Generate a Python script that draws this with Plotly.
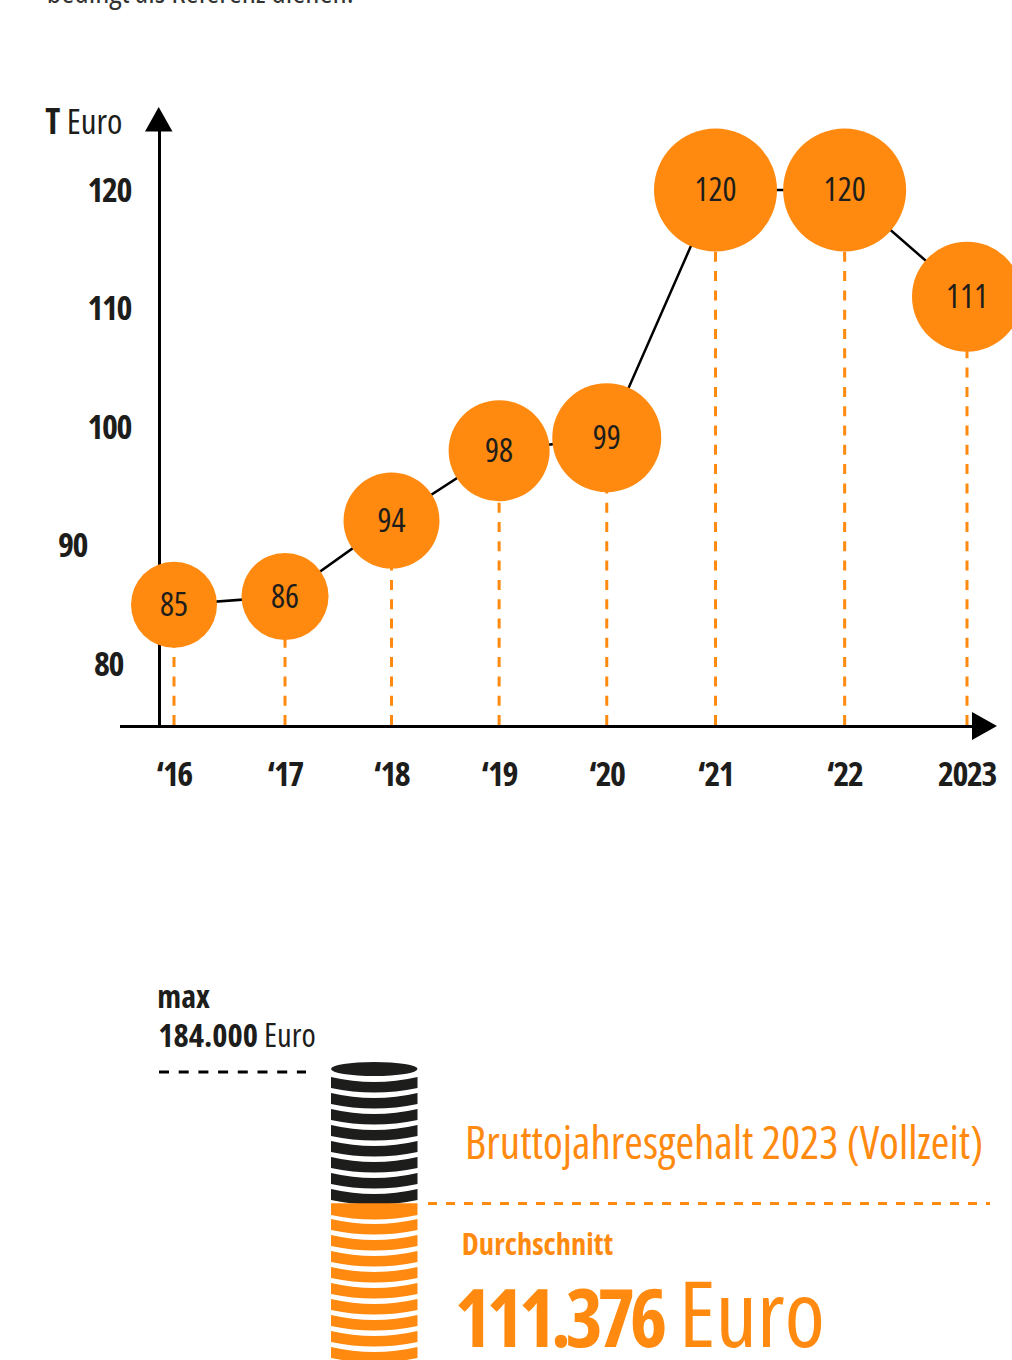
import plotly.graph_objects as go

W, H = 1012, 1360
ORANGE = "#FF8A0F"
INK = "#1D1D1B"
FONT = "Open Sans"

# --- data ---
years = [2016, 2016.98, 2017.92, 2018.87, 2019.82, 2020.78, 2021.92, 2023]
year_labels = ["‘16", "‘17", "‘18", "‘19", "‘20", "‘21", "‘22", "2023"]
salary_positions = [85, 85.7, 92.1, 98, 99.1, 120, 120, 111]
salary_labels = ["85", "86", "94", "98", "99", "120", "120", "111"]
bubble_sizes = [86, 87, 96, 101, 109, 123, 123, 110]
y_ticks = [120, 110, 100, 90, 80]
y_tick_centres = [109, 109, 109, 72, 108]
salary_max = 184000
salary_avg = 111376

# --- pixel helpers for layout ---
PX_PER_YEAR = (967 - 174) / 7
PX_PER_T = (664 - 190) / 40
x_range = [2016 + (120 - 174) / PX_PER_YEAR, 2016 + (985 - 174) / PX_PER_YEAR]
y_range = [80 + (664 - 725) / PX_PER_T, 80 + (664 - 125) / PX_PER_T]
axis_floor = y_range[0]

EUR_PER_PX = (salary_max - salary_avg) / (1203.5 - 1072)
def eur_at(py):
    return salary_max - (py - 1072) * EUR_PER_PX

fig = go.Figure()

# connecting line
fig.add_trace(go.Scatter(x=years, y=salary_positions, mode="lines", cliponaxis=False,
                         line=dict(color="#000000", width=2.5), hoverinfo="skip", showlegend=False))

# dashed drops, drawn upward from the axis so each starts with a dash on the axis
drop_x, drop_y = [], []
for xv, yv in zip(years, salary_positions):
    drop_x += [xv, xv, None]
    drop_y += [axis_floor, yv, None]
fig.add_trace(go.Scatter(x=drop_x, y=drop_y, mode="lines", cliponaxis=False,
                         line=dict(color=ORANGE, width=3, dash="10px,9.3px"),
                         hoverinfo="skip", showlegend=False))

# bubbles
fig.add_trace(go.Scatter(x=years, y=salary_positions, mode="markers+text", cliponaxis=False,
                         text=salary_labels, textposition="middle center",
                         textfont=dict(family=FONT, size=33, color=INK),
                         marker=dict(size=bubble_sizes, color=ORANGE, opacity=1, line=dict(width=0)),
                         hoverinfo="skip", showlegend=False))

# invisible trace that keeps the euro axis alive
fig.add_trace(go.Scatter(x=[374, 374], y=[salary_max, salary_avg], xaxis="x2", yaxis="y2",
                         mode="markers", marker=dict(size=1, opacity=0),
                         hoverinfo="skip", showlegend=False))

shapes = []
def coin_band(top, bottom_side, sag_top, sag_bot, color):
    xl, xr, xm = 331, 417.5, 374.25
    path = (f"M {xl} {eur_at(top)} "
            f"Q {xm} {eur_at(top + 2 * sag_top)} {xr} {eur_at(top)} "
            f"L {xr} {eur_at(bottom_side)} "
            f"Q {xm} {eur_at(bottom_side + 2 * sag_bot)} {xl} {eur_at(bottom_side)} Z")
    return dict(type="path", xref="x2", yref="y2", path=path,
                fillcolor=color, line=dict(width=0), layer="above")

# top face of the stack
shapes.append(dict(type="circle", xref="x2", yref="y2", x0=331, x1=417.5,
                   y0=eur_at(1062), y1=eur_at(1076), fillcolor=INK, line=dict(width=0)))
for i in range(8):
    t = 1077 + 16 * i
    shapes.append(coin_band(t, t + 11, 5, 4.5, INK))
shapes.append(coin_band(1203.3, 1215, 0, 4.5, ORANGE))
for i in range(1, 10):
    t = 1203 + 16 * i
    shapes.append(coin_band(t, t + 11, 5, 4.5, ORANGE))

# guide lines at the two salary levels
shapes.append(dict(type="line", xref="x2", yref="y2", x0=159, x1=306, y0=salary_max, y1=salary_max,
                   line=dict(color="#000000", width=3, dash="10px,9.7px")))
shapes.append(dict(type="line", xref="x2", yref="y2", x0=428, x1=990, y0=salary_avg, y1=salary_avg,
                   line=dict(color=ORANGE, width=3, dash="9px,9px")))

# axis arrowheads
shapes.append(dict(type="path", xref="x2", yref="y2",
                   path=f"M 145 {eur_at(131.5)} L 172.5 {eur_at(131.5)} L 158.7 {eur_at(107)} Z",
                   fillcolor="#000000", line=dict(width=0)))
shapes.append(dict(type="path", xref="x2", yref="y2",
                   path=f"M 972 {eur_at(712)} L 997 {eur_at(726)} L 972 {eur_at(740)} Z",
                   fillcolor="#000000", line=dict(width=0)))

def label(text, px, py, size, color=INK):
    return dict(text=text, x=px / W, y=1 - py / H, xref="paper", yref="paper",
                xanchor="center", yanchor="middle", showarrow=False, borderpad=0,
                font=dict(family=FONT, size=size, color=color))

annotations = [
    label("bedingt als Referenz dienen.", 199.5, -10, 31.5, "#333333"),
    label("<b>T</b> Euro", 84, 120, 35),
    label("<b>max</b>", 183.5, 996, 32),
    label("<b>184.000</b> Euro", 237, 1034, 32.5),
    label("Bruttojahresgehalt 2023 (Vollzeit)", 724, 1141, 45, ORANGE),
    label("<b>Durchschnitt</b>", 537.5, 1243, 30.5, ORANGE),
    label('<span style="font-size:80px"><b>111.376</b></span> Euro', 640, 1311, 92, ORANGE),
]
for tick, centre in zip(y_ticks, y_tick_centres):
    annotations.append(dict(text=f"<b>{tick}</b>", x=centre / W, y=tick, xref="paper", yref="y",
                            xanchor="center", yanchor="middle", showarrow=False, borderpad=0,
                            yshift=1.5, font=dict(family=FONT, size=34, color=INK)))

fig.update_layout(
    width=W, height=H, autosize=False,
    margin=dict(l=0, r=0, t=0, b=0, autoexpand=False),
    paper_bgcolor="white", plot_bgcolor="rgba(0,0,0,0)",
    showlegend=False, shapes=shapes, annotations=annotations,
    xaxis=dict(domain=[120 / W, 985 / W], range=x_range, showgrid=False, zeroline=False,
               showline=True, linecolor="#000000", linewidth=2.5, layer="below traces",
               tickmode="array", tickvals=years, ticktext=[f"<b>{t}</b>" for t in year_labels],
               ticks="", ticklabelstandoff=17,
               tickfont=dict(family=FONT, size=34, color=INK)),
    yaxis=dict(domain=[1 - 725 / H, 1 - 125 / H], range=y_range, showgrid=False, zeroline=False,
               anchor="free", position=158.5 / W, layer="below traces",
               showline=True, linecolor="#000000", linewidth=2.5, showticklabels=False, ticks=""),
    xaxis2=dict(domain=[0, 1], range=[0, W], visible=False, anchor="y2"),
    yaxis2=dict(domain=[0, 1], range=[eur_at(H), eur_at(0)], visible=False, anchor="x2"),
)

post = """
document.body.style.margin='0';
document.documentElement.style.overflow='hidden';
var root=document.querySelector('.plotly-graph-div');
root.querySelectorAll('text').forEach(function(t){ t.style.fontStretch='75%'; });
root.querySelectorAll('.textpoint text').forEach(function(t){
  t.setAttribute('y', parseFloat(t.getAttribute('y')) + 3);
});
root.querySelectorAll('.xtick text, .annotation-text').forEach(function(t){
  if(/^[\\u2018]?\\d+$/.test(t.textContent)){ t.style.letterSpacing='-1.5px'; }
});
root.querySelectorAll('.annotation-text tspan').forEach(function(t){
  if(t.textContent==='111.376'){ t.style.letterSpacing='-5.5px'; }
});
"""
fig.write_html("out.html", post_script=post, default_width="1012px", default_height="1360px",
               config=dict(displayModeBar=False, responsive=False))
